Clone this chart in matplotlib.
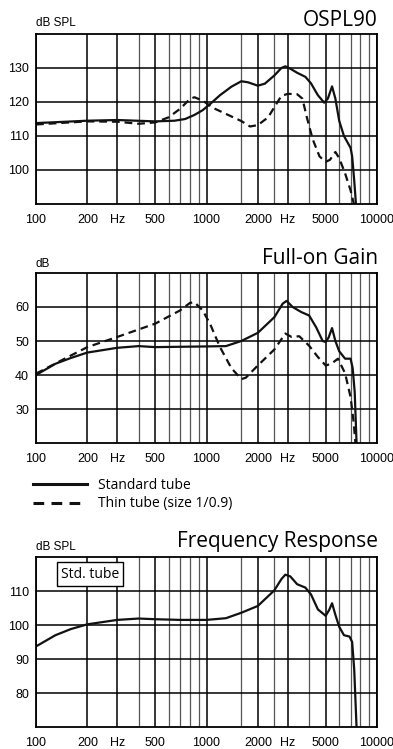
import matplotlib
matplotlib.use("Agg")
import matplotlib.pyplot as plt
from matplotlib.ticker import NullFormatter

# OSPL90 curves (Hz, dB SPL)
ospl_std_f = [100, 150, 200, 300, 500, 650, 750, 850, 950, 1050, 1200, 1400, 1600, 1750, 2000,
              2200, 2500, 2750, 2900, 3100, 3400, 3800, 4100, 4500, 4900, 5150, 5450, 5700, 6000,
              6400, 7000, 7150, 7350, 7550]
ospl_std = [113.8, 114.2, 114.5, 114.7, 114.3, 114.5, 115.0, 116.2, 117.6, 119.4, 122.0, 124.5,
            126.1, 125.8, 124.8, 125.4, 127.8, 130.0, 130.5, 129.8, 128.6, 127.4, 125.5, 122.0,
            119.8, 121.0, 124.6, 121.0, 114.5, 110.0, 106.5, 104.0, 97.0, 89.0]
ospl_thin_f = [100, 200, 300, 400, 500, 600, 700, 800, 850, 950, 1100, 1300, 1600, 1800, 2000,
               2300, 2500, 2750, 3000, 3400, 3650, 3900, 4200, 4600, 5000, 5300, 5700, 6000,
               6500, 7000, 7400]
ospl_thin = [113.4, 114.3, 114.2, 113.6, 114.0, 115.5, 118.0, 120.9, 121.4, 120.4, 118.2, 116.5,
             114.4, 112.8, 113.2, 115.5, 118.5, 121.8, 122.4, 122.3, 121.0, 115.0, 109.0, 104.0,
             102.4, 103.0, 105.3, 103.5, 99.0, 94.0, 89.0]

# Full-on gain curves (Hz, dB)
gain_std_f = [100, 130, 160, 200, 300, 400, 500, 700, 1000, 1300, 1600, 2000, 2500, 2800, 2950,
              3200, 3600, 4000, 4400, 4800, 5000, 5200, 5450, 5700, 6000, 6500, 7000, 7200,
              7400, 7600]
gain_std = [40.0, 43.3, 45.0, 46.6, 48.0, 48.5, 48.2, 48.3, 48.4, 48.5, 50.0, 52.4, 57.0, 61.0,
            61.8, 60.0, 58.5, 57.5, 54.0, 50.0, 49.7, 51.0, 53.8, 50.0, 47.0, 44.8, 44.8, 42.0,
            35.0, 19.0]
gain_thin_f = [100, 150, 200, 300, 500, 700, 800, 850, 950, 1050, 1200, 1400, 1600, 1700, 2000,
               2500, 2900, 3150, 3500, 4000, 4500, 5000, 5400, 5900, 6500, 7000, 7300, 7500]
gain_thin = [40.4, 45.0, 48.2, 51.2, 55.1, 59.0, 61.2, 61.4, 59.0, 55.0, 48.2, 42.0, 38.8, 39.2,
             42.8, 47.5, 52.2, 51.2, 51.4, 48.6, 45.3, 42.8, 43.3, 44.8, 40.5, 33.5, 26.0, 19.0]

# Frequency response, standard tube (Hz, dB SPL)
resp_f = [100, 130, 160, 200, 300, 400, 500, 700, 1000, 1300, 1600, 2000, 2500, 2750, 2900,
          3100, 3400, 3800, 4100, 4500, 5000, 5250, 5450, 5700, 6000, 6400, 6900, 7150, 7350, 7600]
resp_std = [93.7, 97.0, 98.8, 100.2, 101.5, 101.9, 101.7, 101.5, 101.5, 102.0, 103.6, 105.6,
            110.2, 113.5, 114.8, 114.3, 112.0, 111.0, 109.0, 104.6, 102.7, 104.5, 106.4, 103.0,
            99.5, 97.0, 96.6, 95.0, 87.0, 69.0]

x_major = [100, 200, 300, 500, 1000, 2000, 3000, 5000, 10000]
x_major_labels = ['100', '200', 'Hz', '500', '1000', '2000', 'Hz', '5000', '10000']
x_minor = [400, 600, 700, 800, 900, 1600, 2500, 4000, 6000, 7000, 8000, 9000]

W, H = 393, 749
TICK_FONT = 'Liberation Sans'
TITLE_FONT = 'Open Sans'


def px(x, y):
    return x / W, 1 - y / H


def panel(top, ylim, yticks, ylabel, title, ylab_base, title_base):
    left, right, bottom = 36, 377, top + 170
    ax = fig.add_axes([left / W, 1 - bottom / H, (right - left) / W, 170 / H])
    ax.set_xscale('log')
    ax.set_xlim(100, 10000)
    ax.set_ylim(*ylim)
    ax.set_xticks(x_major)
    ax.set_xticklabels(x_major_labels)
    ax.set_xticks(x_minor, minor=True)
    ax.xaxis.set_minor_formatter(NullFormatter())
    ax.set_yticks(yticks)
    ax.tick_params(which='both', length=0)
    ax.tick_params(axis='x', pad=7.5)
    ax.tick_params(axis='y', pad=5)
    for lab in ax.get_xticklabels() + ax.get_yticklabels():
        lab.set_fontfamily(TICK_FONT)
        lab.set_fontsize(9)
    ax.grid(which='major', axis='x', color='black', lw=1.1)
    ax.grid(which='minor', axis='x', color='#555555', lw=0.9)
    ax.grid(which='major', axis='y', color='black', lw=1.1)
    ax.set_axisbelow(True)
    for s in ax.spines.values():
        s.set_linewidth(1.3)
    fig.text(*px(left, ylab_base), ylabel, fontsize=8.5, family=TICK_FONT,
             ha='left', va='baseline')
    fig.text(*px(right + 1, title_base), title, fontsize=15, family=TITLE_FONT,
             ha='right', va='baseline')
    return ax


fig = plt.figure(figsize=(W / 100, H / 100), dpi=100)

ax1 = panel(34, (90, 140), [100, 110, 120, 130], 'dB SPL', 'OSPL90', 26.5, 25.5)
ax1.plot(ospl_std_f, ospl_std, color='#111111', lw=1.6)
ax1.plot(ospl_thin_f, ospl_thin, color='#111111', lw=1.6, dashes=(3.5, 2.2))

ax2 = panel(273, (20, 70), [30, 40, 50, 60], 'dB', 'Full-on Gain', 266.5, 263.5)
ax2.plot(gain_std_f, gain_std, color='#111111', lw=1.6)
ax2.plot(gain_thin_f, gain_thin, color='#111111', lw=1.6, dashes=(3.5, 2.2))

ax3 = panel(557, (70, 120), [80, 90, 100, 110], 'dB SPL', 'Frequency Response', 550, 547)
ax3.plot(resp_f, resp_std, color='#111111', lw=1.6)
ax3.text(*px(90, 574), 'Std. tube', transform=fig.transFigure, fontsize=10,
         family=TITLE_FONT, ha='center', va='center',
         bbox=dict(boxstyle='square,pad=0.3', fc='white', ec='black', lw=1.0))

# legend drawn by hand under the gain panel
fig.add_artist(plt.Line2D([33 / W, 87 / W], [1 - 484 / H, 1 - 484 / H],
                          color='#111111', lw=2.2))
fig.add_artist(plt.Line2D([33 / W, 87 / W], [1 - 503 / H, 1 - 503 / H],
                          color='#111111', lw=2.2, dashes=(3.5, 2.4)))
fig.text(*px(98, 489), 'Standard tube', fontsize=10, family=TITLE_FONT,
         ha='left', va='baseline')
fig.text(*px(98, 507.5), 'Thin tube (size 1/0.9)', fontsize=10, family=TITLE_FONT,
         ha='left', va='baseline')

fig.savefig('out.png', dpi=100)
